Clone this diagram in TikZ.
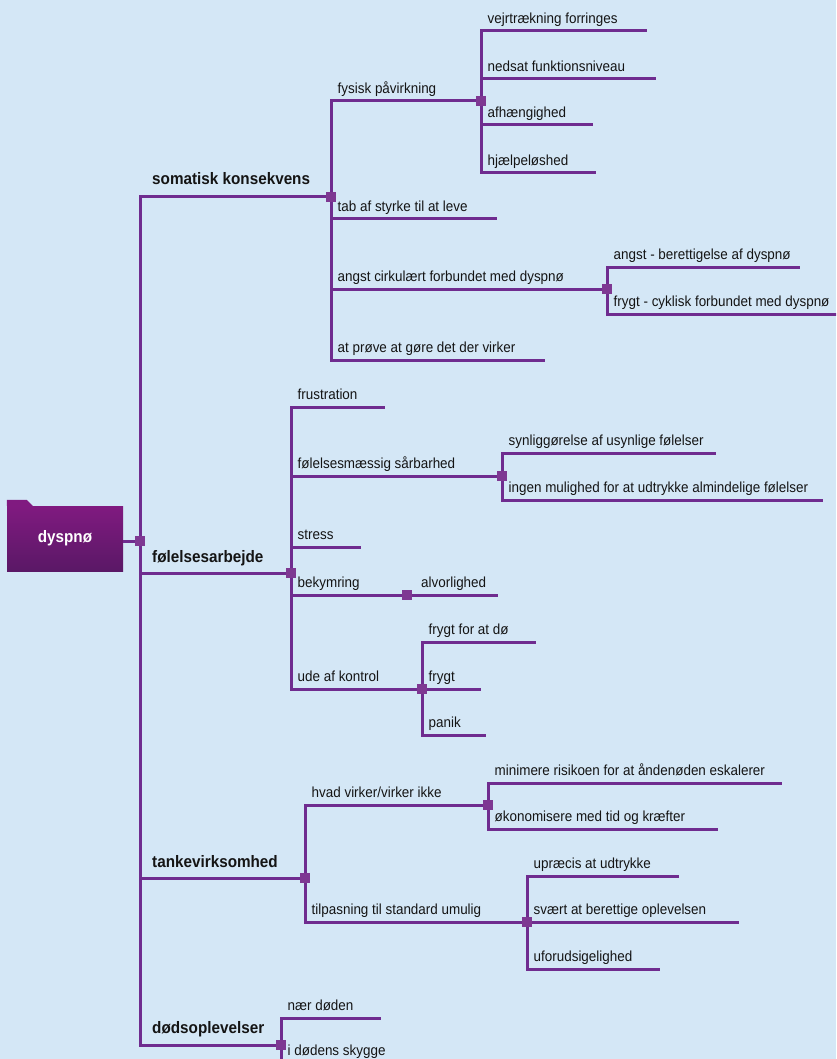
\documentclass[tikz,border=0pt]{standalone}
\usepackage{fontspec}
\setmainfont{Liberation Sans}
\newfontfamily\mmnarrow[FakeStretch=0.92]{Liberation Sans}
\definecolor{bgc}{RGB}{212,231,246}
\definecolor{lnc}{RGB}{111,44,143}
\definecolor{sqc}{RGB}{126,56,146}
\definecolor{txt}{RGB}{20,20,20}
\definecolor{rtop}{RGB}{128,26,128}
\definecolor{rbot}{RGB}{90,24,102}
\tikzset{
  ln/.style={draw=lnc, line width=3pt, line join=miter},
  sq/.style={fill=sqc, minimum size=10pt, inner sep=0pt, outer sep=0pt},
  lab/.style={anchor=base west, inner sep=0pt, font=\mmnarrow\fontsize{14.6}{17}\selectfont, text=txt},
  blab/.style={anchor=base west, inner sep=0pt, font=\mmnarrow\fontsize{16.6}{19}\selectfont\bfseries, text=txt},
  rootbox/.style={minimum width=116pt, minimum height=65pt, inner sep=0pt, top color=rtop, bottom color=rbot, text=white, font=\mmnarrow\fontsize{16.6}{19}\selectfont\bfseries},
}
% #1 name, #2 parent coordinate, #3 parent x, #4 y, #5 end x, #6 text
\newcommand\mmkid[6]{%
  \coordinate (#1) at (#5,#4);
  \draw[ln] (#2) |- (#1);
  \node[lab] (#1t) at (#3+6.5,#4-7.5) {#6};}
\newcommand\mmflat[6]{%
  \coordinate (#1) at (#5,#4);
  \draw[ln] (#2) -- (#1);
  \node[lab] (#1t) at (#3+6.5,#4-7.5) {#6};}
\begin{document}
\begin{tikzpicture}[x=1pt,y=-1pt]
\useasboundingbox (0,0) rectangle (836,1059);
\clip (0,0) rectangle (836,1059);
\fill[bgc] (0,0) rectangle (836,1059);

% root
\node[rootbox] (root) at (65,538.5) {dyspnø};
\fill[rtop] (root.north west) -- ++(0,-6) -- ++(20,0) -- ++(6,6) -- cycle;
\coordinate (R) at (140,541);
\draw[ln] (root.east |- R) -- (R);

% level 1
\coordinate (S1) at (331,197);
\coordinate (S2) at (291,573);
\coordinate (S3) at (305,878);
\coordinate (S4) at (281,1045);
\draw[ln] (R) |- (S1);
\draw[ln] (R) |- (S2);
\draw[ln] (R) |- (S3);
\draw[ln] (R) |- (S4);
\node[blab] (S1t) at (152,185) {somatisk konsekvens};
\node[blab] (S2t) at (152,562) {følelsesarbejde};
\node[blab] (S3t) at (152,867) {tankevirksomhed};
\node[blab] (S4t) at (152,1033) {dødsoplevelser};

% somatisk konsekvens
\mmkid{F}{S1}{331}{101}{481}{fysisk påvirkning}
\mmkid{k2}{S1}{331}{219}{497}{tab af styrke til at leve}
\mmkid{A}{S1}{331}{289}{607}{angst cirkulært forbundet med dyspnø}
\mmkid{k4}{S1}{331}{360}{545}{at prøve at gøre det der virker}

\mmkid{f1}{F}{481}{31}{647}{vejrtrækning forringes}
\mmkid{f2}{F}{481}{79}{656}{nedsat funktionsniveau}
\mmkid{f3}{F}{481}{125}{593}{afhængighed}
\mmkid{f4}{F}{481}{173}{596}{hjælpeløshed}

\mmkid{a1}{A}{607}{267}{800}{angst - berettigelse af dyspnø}
\mmkid{a2}{A}{607}{314}{880}{frygt - cyklisk forbundet med dyspnø}

% følelsesarbejde
\mmkid{g1}{S2}{291}{407}{385}{frustration}
\mmkid{FS}{S2}{291}{476}{502}{følelsesmæssig sårbarhed}
\mmkid{g3}{S2}{291}{547}{361}{stress}
\mmkid{B}{S2}{291}{595}{407}{bekymring}
\mmkid{U}{S2}{291}{689}{422}{ude af kontrol}

\mmkid{s1}{FS}{502}{453}{716}{synliggørelse af usynlige følelser}
\mmkid{s2}{FS}{502}{500}{823}{ingen mulighed for at udtrykke almindelige følelser}

\coordinate (b1) at (498,595);
\draw[ln] (B) -- (b1);
\node[lab] (b1t) at (421,587.5) {alvorlighed};

\mmkid{u1}{U}{422}{642}{536}{frygt for at dø}
\mmflat{u2}{U}{422}{689}{481}{frygt}
\mmkid{u3}{U}{422}{735}{486}{panik}

% tankevirksomhed
\mmkid{H}{S3}{305}{805}{488}{hvad virker/virker ikke}
\mmkid{T}{S3}{305}{922}{527}{tilpasning til standard umulig}

\mmkid{h1}{H}{488}{783}{782}{minimere risikoen for at åndenøden eskalerer}
\mmkid{h2}{H}{488}{829}{718}{økonomisere med tid og kræfter}

\mmkid{t1}{T}{527}{876}{679}{upræcis at udtrykke}
\mmflat{t2}{T}{527}{922}{739}{svært at berettige oplevelsen}
\mmkid{t3}{T}{527}{969}{660}{uforudsigelighed}

% dødsoplevelser
\mmkid{d1}{S4}{281}{1018}{381}{nær døden}
\mmkid{d2}{S4}{281}{1063}{400}{i dødens skygge}

% junction squares
\foreach \p in {R,S1,S2,S3,S4,F,A,FS,B,U,H,T}
  \node[sq] (\p q) at (\p) {};
\end{tikzpicture}
\end{document}
